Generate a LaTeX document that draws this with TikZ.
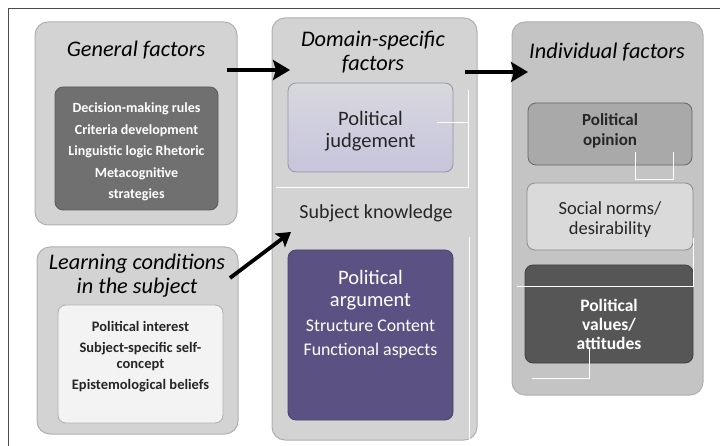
\documentclass[tikz,border=0pt]{standalone}
\usepackage{fontspec}
\setmainfont{Carlito}
\usetikzlibrary{arrows.meta}
\definecolor{panelgray}{HTML}{D3D3D3}
\definecolor{panelline}{HTML}{B0B0B0}
\definecolor{indivgray}{HTML}{C4C4C4}
\definecolor{gendark}{HTML}{707070}
\definecolor{learnlight}{HTML}{F3F3F3}
\definecolor{judgtop}{HTML}{D8D8DE}
\definecolor{judgbot}{HTML}{C7C4DC}
\definecolor{argpurple}{HTML}{5B5283}
\definecolor{opingray}{HTML}{A9A9A9}
\definecolor{socgray}{HTML}{DADADA}
\definecolor{valdark}{HTML}{565656}
\begin{document}
\begin{tikzpicture}[x=1pt,y=-1pt,
  panel/.style={draw=panelline, line width=1pt, fill=#1, rounded corners=13pt, inner sep=0pt},
  inbox/.style={draw=#1, line width=0.8pt, rounded corners=8pt, inner sep=0pt},
  heading/.style={font=\fontsize{22.3}{24}\selectfont\itshape, align=center, inner sep=0pt},
  listtxt/.style={font=\fontsize{14}{16}\selectfont\bfseries, align=center, inner sep=0pt},
  bigtxt/.style={font=\fontsize{20.5}{22}\selectfont, align=center, inner sep=0pt},
  midtxt/.style={font=\fontsize{18}{20}\selectfont, align=center, inner sep=0pt},
  flow/.style={line width=4.5pt, -{Stealth[length=17pt,width=20pt,inset=3pt]}},
  glitch/.style={draw=white, line width=1pt}]
\useasboundingbox (0,0) rectangle (720,446);
\fill[white] (0,0) rectangle (720,446);
% page frame (top and left edges)
\draw[black!70, line width=0.8pt] (8,446) -- (8,8) -- (720,8);

% ---------- General factors ----------
\node[panel=panelgray, minimum width=202pt, minimum height=203pt] (gen) at (136,123.5) {};
\node[heading] (gentitle) at (136,50) {General factors};
\node[inbox=gendark!80!black, fill=gendark, minimum width=163pt, minimum height=123pt] (genin) at (136.5,148.5) {};
\node[listtxt, text=white] (gentext) at (136.5,152) {Decision-making rules\\[5.5pt]Criteria development\\[5.5pt]Linguistic logic Rhetoric\\[5.5pt]Metacognitive\\[5.5pt]strategies};

% ---------- Learning conditions ----------
\node[panel=panelgray, minimum width=201pt, minimum height=187pt] (learn) at (137.5,340.5) {};
\node[heading] (learntitle) at (137,276) {Learning conditions\\in the subject};
\node[inbox=panelline, fill=learnlight, minimum width=165pt, minimum height=118pt] (learnin) at (140.5,364) {};
\node[listtxt, font=\fontsize{14.5}{16}\selectfont\bfseries, text=black!85] (learntext) at (140.5,357) {Political interest\\[5pt]Subject-specific self-\\concept\\[5pt]Epistemological beliefs};

% ---------- Domain-specific factors ----------
\node[panel=panelgray, minimum width=205pt, minimum height=422pt] (dom) at (374.5,229) {};
\node[heading] (domtitle) at (373,52) {Domain-specific\\factors};
\node[inbox=judgbot!75!black, top color=judgtop, bottom color=judgbot, minimum width=165pt, minimum height=89pt] (judg) at (370.5,127.5) {};
\node[bigtxt, text=black!85] (judgtext) at (370.5,131) {Political\\judgement};
\node[bigtxt, font=\fontsize{20}{22}\selectfont, text=black!85] (subj) at (376,213) {Subject knowledge};
\node[inbox=argpurple!80!black, fill=argpurple, minimum width=165pt, minimum height=170pt] (arg) at (370.5,335) {};
\node[bigtxt, text=white] (argtext) at (370.5,314) {Political\\argument\\[3pt]\fontsize{17.8}{20}\selectfont Structure Content\\[2pt]\fontsize{17.8}{20}\selectfont Functional aspects};

% ---------- Individual factors ----------
\node[panel=indivgray, minimum width=191pt, minimum height=373pt] (ind) at (607.5,208.5) {};
\node[heading] (indtitle) at (607,52) {Individual factors};
\node[inbox=black!60, fill=opingray, minimum width=164pt, minimum height=62pt] (opin) at (610,134) {};
\node[midtxt, font=\fontsize{17}{19.5}\selectfont\bfseries, text=black!85] (opintext) at (610,131) {Political\\opinion};
\node[inbox=black!45, fill=socgray, minimum width=166pt, minimum height=67pt] (soc) at (610,216.5) {};
\node[midtxt, font=\fontsize{18.5}{20}\selectfont, text=black!85] (soctext) at (610,220) {Social norms/\\desirability};
\node[inbox=black!75, fill=valdark, minimum width=168pt, minimum height=98pt] (val) at (609,314) {};
\node[midtxt, font=\fontsize{17.5}{19}\selectfont\bfseries, text=white] (valtext) at (609,324) {Political\\values/\\attitudes};

% ---------- connectors ----------
\coordinate (genout) at (227,70);
\coordinate (domin) at (290,70);
\coordinate (domout) at (465,72);
\coordinate (indin) at (528,72);
\coordinate (learnout) at (230,278);
\coordinate (subjin) at (291,232);
\draw[flow] (genout) -- (domin);
\draw[flow] (domout) -- (indin);
\draw[flow, -{Stealth[length=14pt,width=17pt,inset=3pt]}, line width=3.8pt] (learnout) -- (subjin);

% ---------- thin white streaks ----------
\draw[glitch] (468,90) -- (468,188) (276,188) -- (468,188) (437,123) -- (468,123);
\draw[glitch] (469,237) -- (469,440);
\draw[glitch] (635,152) -- (635,180) -- (673,180) -- (673,152);
\draw[glitch] (693,238) -- (693,287) (517,287) -- (693,287);
\draw[glitch] (589,348) -- (589,378) -- (532,378);
\end{tikzpicture}
\end{document}
